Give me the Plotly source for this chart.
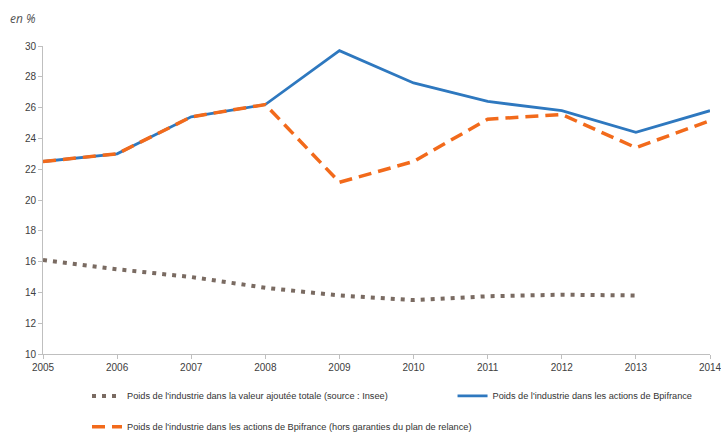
import plotly.graph_objects as go

years = [2005, 2006, 2007, 2008, 2009, 2010, 2011, 2012, 2013, 2014]
years_insee = [2005, 2006, 2007, 2008, 2009, 2010, 2011, 2012, 2013]
poids_va = [16.1, 15.5, 15.0, 14.3, 13.8, 13.5, 13.75, 13.85, 13.8]
poids_bpi = [22.5, 23.0, 25.4, 26.2, 29.7, 27.6, 26.4, 25.8, 24.4, 25.8]
poids_bpi_hors = [22.5, 23.0, 25.4, 26.2, 21.15, 22.5, 25.25, 25.55, 23.4, 25.15]

name_va = "Poids de l'industrie dans la valeur ajoutée totale (source : Insee)"
name_bpi = "Poids de l'industrie dans les actions de Bpifrance"
name_hors = "Poids de l'industrie dans les actions de Bpifrance (hors garanties du plan de relance)"

FONT = "Liberation Sans, Arial, sans-serif"
GREY = "#7a6b62"
BLUE = "#2e78bf"
ORANGE = "#f26a1b"

fig = go.Figure()
fig.add_trace(go.Scatter(x=years_insee, y=poids_va, mode="lines", name=name_va,
                         line=dict(color=GREY, width=4, dash="4px,6px"), legend="legend"))
fig.add_trace(go.Scatter(x=years, y=poids_bpi, mode="lines", name=name_bpi,
                         line=dict(color=BLUE, width=2.8), legend="legend3"))
fig.add_trace(go.Scatter(x=years, y=poids_bpi_hors, mode="lines", name=name_hors,
                         line=dict(color=ORANGE, width=3.5, dash="13px,7px"), legend="legend2"))

leg_common = dict(orientation="h", xanchor="left", yanchor="middle",
                  font=dict(size=9.2, color="#333333", family=FONT), itemwidth=30,
                  bgcolor="rgba(0,0,0,0)")

fig.update_layout(
    width=721, height=434,
    showlegend=True,
    margin=dict(l=43, r=11, t=46, b=80, autoexpand=False),
    paper_bgcolor="white", plot_bgcolor="white",
    font=dict(family=FONT, size=10, color="#404040"),
    legend=dict(x=0.066, y=-0.136, **leg_common),
    legend3=dict(x=0.614, y=-0.136, **leg_common),
    legend2=dict(x=0.066, y=-0.236, **leg_common),
    annotations=[dict(text="<i>en %</i>", x=0, y=1, xref="paper", yref="paper",
                      xshift=-35, yshift=28, xanchor="left", yanchor="middle",
                      showarrow=False, font=dict(family="Open Sans, sans-serif", size=12, color="#555555"))],
)
fig.update_xaxes(range=[2005, 2014], tickvals=years, ticktext=[str(y) for y in years],
                 showgrid=False, zeroline=False, showline=True, linecolor="#bfbfbf", linewidth=1,
                 ticks="outside", ticklen=4, tickcolor="#bfbfbf", ticklabeloverflow="allow",
                 tickfont=dict(size=10, color="#404040"))
fig.update_yaxes(range=[10, 30], dtick=2, showgrid=False, zeroline=False, showline=True,
                 linecolor="#bfbfbf", linewidth=1, ticks="outside", ticklen=4, tickcolor="#bfbfbf",
                 tickfont=dict(size=10, color="#404040"))

fig.write_html("out.html", config={"displayModeBar": False},
               post_script="document.body.style.margin='0';document.documentElement.style.overflow='hidden';")
